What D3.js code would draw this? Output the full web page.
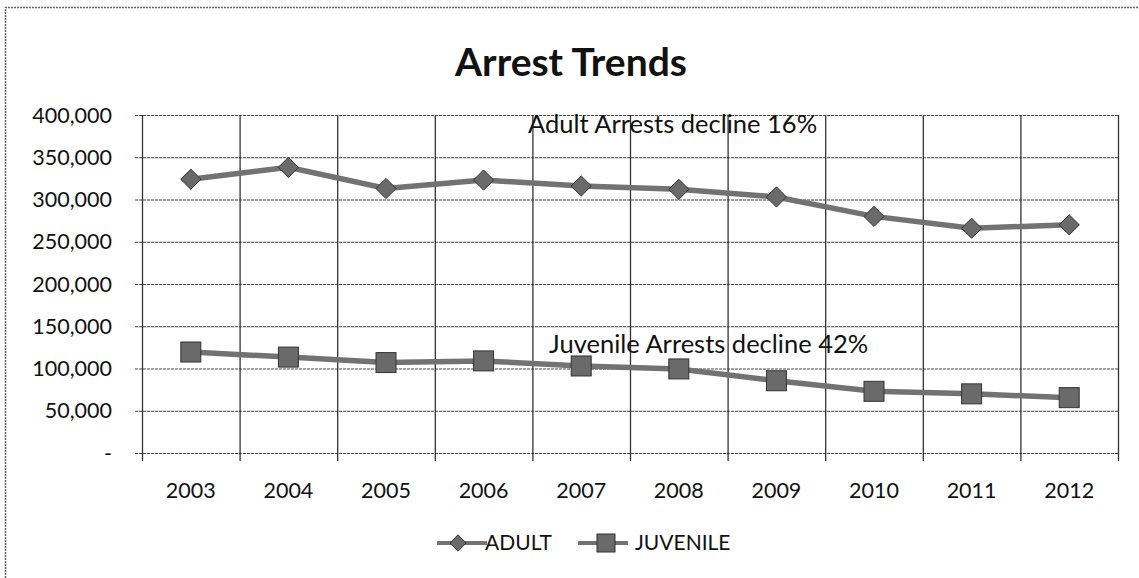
<!DOCTYPE html>
<html>
<head>
<meta charset="utf-8">
<script src="https://cdn.jsdelivr.net/npm/d3@7"></script>
<style>
  body { margin: 0; background: #fff; }
  text { font-family: Lato, "Open Sans", sans-serif; fill: #111; }
</style>
</head>
<body>
<script>
/*data*/
const years = ['2003','2004','2005','2006','2007','2008','2009','2010','2011','2012']
const adult = [324000, 338000, 313000, 323000, 316000, 312000, 303000, 280000, 266000, 270000]
const juvenile = [119500, 113500, 107000, 109000, 103000, 99500, 85500, 73000, 70000, 65500]
const yTicks = [0, 50000, 100000, 150000, 200000, 250000, 300000, 350000, 400000]
const seriesNames = ['ADULT', 'JUVENILE']

/*canvas size*/
const width = 1139;
const height = 578;
const plot = { left: 142, right: 1118, top: 115, bottom: 453 };

const svg = d3.select('body').append('svg')
      .attr('width', width).attr('height', height);

/*outer frame (left and top only visible)*/
svg.append('path').attr('d', 'M5.5,' + height + ' V7.5 H' + width)
   .attr('fill', 'none').attr('stroke', '#666').attr('stroke-width', 1.5)
   .attr('stroke-dasharray', '2,1')

/*scales*/
const xScale = d3.scaleBand().domain(years).range([plot.left, plot.right])
const yScale = d3.scaleLinear().domain([0, 400000]).range([plot.bottom, plot.top])

/*horizontal grid*/
svg.append('g').selectAll('line').data(yTicks).enter().append('line')
   .attr('x1', plot.left - 7).attr('x2', plot.right)
   .attr('y1', d => yScale(d) + 0.5).attr('y2', d => yScale(d) + 0.5)
   .attr('stroke', '#444').attr('stroke-width', 1.2).attr('stroke-dasharray', '3,1')

/*vertical grid at band edges*/
const edges = years.map(y => xScale(y)).concat([plot.right])
svg.append('g').selectAll('line').data(edges).enter().append('line')
   .attr('x1', d => d + 0.5).attr('x2', d => d + 0.5)
   .attr('y1', plot.top).attr('y2', plot.bottom + 8)
   .attr('stroke', '#333').attr('stroke-width', 1.3)

/*y axis labels*/
const fmt = d3.format(',')
svg.append('g').selectAll('text').data(yTicks).enter().append('text')
   .attr('x', 112).attr('y', d => yScale(d)).attr('dy', '0.35em')
   .attr('text-anchor', 'end').attr('font-size', 21.5)
   .text(d => d === 0 ? '-' : fmt(d))

/*x axis labels*/
svg.append('g').selectAll('text').data(years).enter().append('text')
   .attr('x', d => xScale(d) + xScale.bandwidth() / 2).attr('y', 490)
   .attr('dy', '0.35em').attr('text-anchor', 'middle').attr('font-size', 21.5)
   .text(d => d)

/*lines*/
const cx = (d, i) => xScale(years[i]) + xScale.bandwidth() / 2
const line = d3.line().x(cx).y(d => yScale(d))
;[adult, juvenile].forEach(s => {
   svg.append('path').datum(s).attr('d', line)
      .attr('fill', 'none').attr('stroke', '#727272').attr('stroke-width', 5.5)
})

/*markers*/
const diamond = d3.symbol().type(d3.symbolDiamond2).size(260)
svg.append('g').selectAll('path').data(adult).enter().append('path')
   .attr('d', diamond)
   .attr('transform', (d, i) => 'translate(' + cx(d, i) + ',' + yScale(d) + ')')
   .attr('fill', '#6a6a6a').attr('stroke', '#333').attr('stroke-width', 1)

svg.append('g').selectAll('rect').data(juvenile).enter().append('rect')
   .attr('x', (d, i) => cx(d, i) - 10).attr('y', d => yScale(d) - 10)
   .attr('width', 20).attr('height', 20)
   .attr('fill', '#6a6a6a').attr('stroke', '#333').attr('stroke-width', 1)

/*annotations*/
svg.append('text').attr('x', 528).attr('y', 133).attr('font-size', 25.5)
   .text('Adult Arrests decline 16%')
svg.append('text').attr('x', 549).attr('y', 353).attr('font-size', 25.5)
   .text('Juvenile Arrests decline 42%')

/*title*/
svg.append('text').attr('x', 571).attr('y', 76).attr('text-anchor', 'middle')
   .attr('font-size', 39).attr('font-weight', 'bold').text('Arrest Trends')

/*legend*/
const legend = svg.append('g').attr('transform', 'translate(0,543)')
const lx = [437, 578]
const markX = [458, 606]
seriesNames.forEach((name, i) => {
   legend.append('line').attr('x1', lx[i]).attr('x2', lx[i] + 50)
         .attr('stroke', '#727272').attr('stroke-width', 4)
   if (i === 0) {
      legend.append('path').attr('d', d3.symbol().type(d3.symbolDiamond2).size(170))
            .attr('transform', 'translate(' + markX[i] + ',0)')
            .attr('fill', '#6a6a6a').attr('stroke', '#333')
   } else {
      legend.append('rect').attr('x', markX[i] - 9).attr('y', -9).attr('width', 18).attr('height', 18)
            .attr('fill', '#6a6a6a').attr('stroke', '#333')
   }
   legend.append('text').attr('x', lx[i] + (i === 0 ? 48 : 57)).attr('dy', '0.35em').attr('font-size', 21)
         .text(name)
})
</script>
</body>
</html>
